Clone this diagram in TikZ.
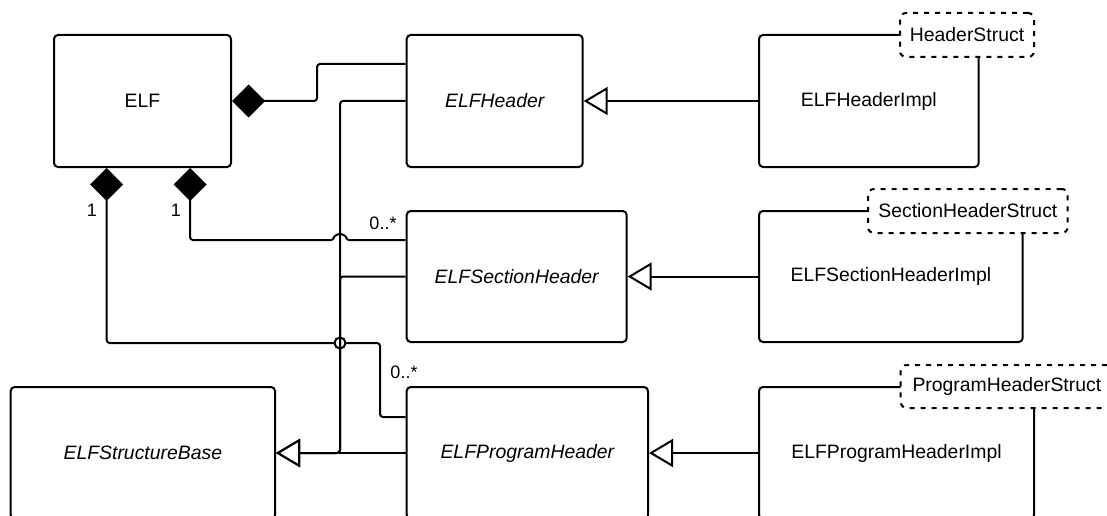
\documentclass[tikz,border=0pt]{standalone}
\usepackage{fontspec}
\setmainfont{Liberation Sans}
\usetikzlibrary{arrows.meta}
\begin{document}
\begin{tikzpicture}[x=1pt,y=-1pt,
  every node/.style={font=\fontsize{19.4pt}{23pt}\selectfont, text=black, inner sep=0pt},
  cls/.style={draw, line width=2pt, rounded corners=4pt, fill=white},
  tmpl/.style={draw, line width=2pt, dash pattern=on 5pt off 6pt, rounded corners=6pt, fill=white},
  comp/.style={line width=2pt, rounded corners=3pt, -{Diamond[length=33pt,width=33pt]}},
  inh/.style={line width=2pt, rounded corners=3pt, -{Triangle[length=24pt,width=28pt,fill=white]}},
  mult/.style={font=\fontsize{18pt}{21pt}\selectfont}
]
\useasboundingbox (0,0) rectangle (1107,516);
\fill[white] (0,0) rectangle (1107,516);
\clip (0,0) rectangle (1107,516);

% classes
\node[cls, minimum width=177pt, minimum height=132pt] (elf) at (142.5,101) {ELF};
\node[cls, minimum width=176pt, minimum height=132pt] (hdr) at (494.7,101) {\itshape ELFHeader};
\node[cls, minimum width=220pt, minimum height=131pt] (sec) at (516.7,276.5) {\itshape ELFSectionHeader};
\node[cls, minimum width=241.3pt, minimum height=132pt] (prog) at (527.35,453) {\itshape ELFProgramHeader};
\node[cls, minimum width=264.3pt, minimum height=132pt] (base) at (142.85,453) {\itshape ELFStructureBase};

% implementation classes with their template parameters
\node[cls, minimum width=219.7pt, minimum height=132pt] (hdrimpl) at (868.85,101) {ELFHeaderImpl};
\node[cls, minimum width=263.7pt, minimum height=131pt] (secimpl) at (890.85,276.5) {ELFSectionHeaderImpl};
\node[cls, minimum width=275pt, minimum height=132pt] (progimpl) at (896.5,453) {ELFProgramHeaderImpl};
\node[tmpl, minimum width=134pt, minimum height=44pt] (hdrstruct) at (967,35) {HeaderStruct};
\node[tmpl, minimum width=199.7pt, minimum height=44pt] (secstruct) at (967.85,211) {SectionHeaderStruct};
\node[tmpl, minimum width=212.3pt, minimum height=43pt] (progstruct) at (1006.85,386.5) {ProgramHeaderStruct};

% compositions
\draw[comp] ([yshift=37pt]hdr.west) -- (317,64) -- (317,101) -- (elf.east);
\draw[comp] ([yshift=36.5pt]sec.west) -- (346,240) arc[start angle=0,end angle=180,radius=6pt] -- (190,240) -- ([xshift=47.5pt]elf.south);
\draw[comp] ([yshift=36pt]prog.west) -- (380,417) -- (380,343) -- (106.7,343) -- ([xshift=-35.8pt]elf.south);
\draw[line width=2pt, fill=white] (340,343) circle[radius=5.5pt];

% multiplicities
\node[mult] (m1) at (92,210) {1};
\node[mult] (m2) at (176,210) {1};
\node[mult] (m3) at (383,223) {0..*};
\node[mult] (m4) at (404,372) {0..*};

% generalizations
\draw[inh] (hdr.west) -- (340,101) -- (340,453) -- (base.east);
\draw[inh] (sec.west) -- (340,276.5) -- (340,453) -- (base.east);
\draw[inh] (prog.west) -- (base.east);
\draw[inh] (hdrimpl.west) -- (hdr.east);
\draw[inh] (secimpl.west) -- (sec.east);
\draw[inh] (progimpl.west) -- (prog.east);
\end{tikzpicture}
\end{document}
